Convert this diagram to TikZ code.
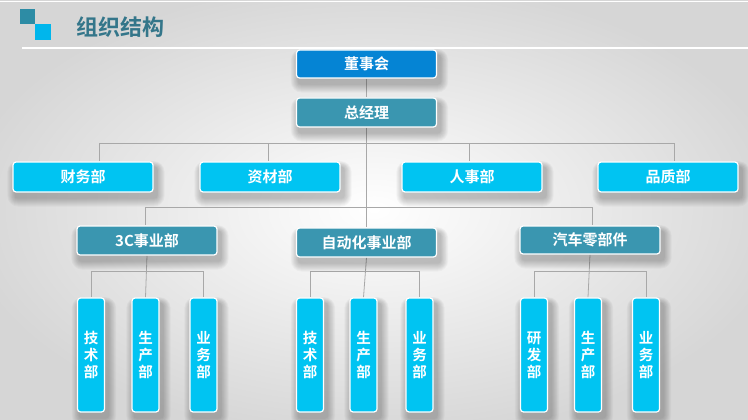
\documentclass[tikz,border=0pt]{standalone}
\usepackage{fontspec}
\newfontfamily\cjk{Noto Sans CJK SC}[BoldFont={Noto Sans CJK SC Bold}]
\usetikzlibrary{calc}
\definecolor{cyanbox}{RGB}{0,196,242}
\definecolor{tealbox}{RGB}{58,150,176}
\definecolor{bluebox}{RGB}{5,132,212}
\definecolor{titlecol}{RGB}{52,118,138}
\definecolor{sqA}{RGB}{45,140,165}
\definecolor{sqB}{RGB}{0,182,236}
\definecolor{conncol}{RGB}{168,168,168}
\definecolor{bgedge}{RGB}{214,214,214}
\pgfdeclarelayer{bg}
\pgfdeclarelayer{lines}
\pgfdeclarelayer{shadow}
\pgfsetlayers{bg,lines,shadow,main}
\tikzset{
  box/.style={draw=white, line width=1.2pt, rounded corners=3pt, text=white,
    font=\cjk\bfseries\fontsize{15pt}{17pt}\selectfont, inner sep=0pt},
  hbox/.style={box, minimum width=140pt, minimum height=29pt},
  vbox/.style={box, fill=cyanbox, minimum width=27pt, minimum height=114pt, align=center,
    font=\cjk\bfseries\fontsize{14.5pt}{17pt}\selectfont},
  conn/.style={draw=conncol, line width=0.8pt},
  shadowpiece/.style={fill=black, opacity=0.028},
}
\begin{document}
\begin{tikzpicture}[x=1pt,y=-1pt]
\useasboundingbox (0,0) rectangle (748,420);
\begin{pgfonlayer}{bg}
  \shade[inner color=white, outer color=bgedge] (-40,-20) rectangle (788,440);
  \draw[white, line width=1.5pt] (22,48) -- (748,48);
  \draw[white, line width=1pt] (0,2) -- (748,2);
  \fill[sqA] (20,9) rectangle (35,24);
  \fill[sqB] (35,24) rectangle (51,40);
\end{pgfonlayer}
\node[anchor=west, text=titlecol, font=\cjk\bfseries\fontsize{22pt}{24pt}\selectfont, inner sep=0pt] (title) at (76,27) {组织结构};

% level 1-2
\node[hbox, fill=bluebox, minimum height=28pt] (board) at (366.5,64) {董事会};
\node[hbox, fill=tealbox] (gm) at (366.5,112.5) {总经理};
% departments
\node[hbox, fill=cyanbox, minimum height=30pt] (fin) at (83,177) {财务部};
\node[hbox, fill=cyanbox, minimum height=30pt] (mat) at (270,177) {资材部};
\node[hbox, fill=cyanbox, minimum height=30pt] (hr)  at (472,177) {人事部};
\node[hbox, fill=cyanbox, minimum height=30pt] (qa)  at (668,177) {品质部};
% business units
\node[hbox, fill=tealbox] (cc)   at (147,240.5) {3C事业部};
\node[hbox, fill=tealbox] (auto) at (366.5,242.5) {自动化事业部};
\node[hbox, fill=tealbox, minimum height=28pt] (car)  at (590,240) {汽车零部件};
% sub departments
\node[vbox] (cc1) at (91,355) {技\\术\\部};
\node[vbox] (cc2) at (145.5,355) {生\\产\\部};
\node[vbox] (cc3) at (203.5,355) {业\\务\\部};
\node[vbox] (au1) at (310,355) {技\\术\\部};
\node[vbox] (au2) at (363.5,355) {生\\产\\部};
\node[vbox] (au3) at (419.5,355) {业\\务\\部};
\node[vbox] (ca1) at (534,355) {研\\发\\部};
\node[vbox] (ca2) at (588,355) {生\\产\\部};
\node[vbox] (ca3) at (646,355) {业\\务\\部};

\begin{pgfonlayer}{shadow}
  \foreach \n in {board,gm,fin,mat,hr,qa,cc,auto,car,cc1,cc2,cc3,au1,au2,au3,ca1,ca2,ca3}{
    \foreach \k in {1,...,9}{
      \fill[shadowpiece, rounded corners=\k pt+2pt]
        ($(\n.north west)+(3-\k*0.9,6-\k*0.7)$) rectangle ($(\n.south east)+(3+\k*0.9,5+\k)$);
    }
  }
\end{pgfonlayer}

\coordinate (busA) at (366.5,143);
\coordinate (busB) at (366.5,207);
\begin{pgfonlayer}{lines}
  \draw[conn] (board.south) -- (gm.north);
  \draw[conn] (gm.south) -- (auto.north);
  \draw[conn] (busA) -| ([xshift=16pt]fin.north);
  \draw[conn] (busA) -| ([xshift=-2pt]mat.north);
  \draw[conn] (busA) -| ([xshift=-3pt]hr.north);
  \draw[conn] (busA) -| ([xshift=6pt]qa.north);
  \draw[conn] (busB) -| ([xshift=-2pt]cc.north);
  \draw[conn] (busB) -| ([xshift=2pt]car.north);
  \draw[conn] (cc.south) -- (cc2.north);
  \draw[conn] (cc2.north |- 0,271) -| (cc1.north);
  \draw[conn] (cc2.north |- 0,271) -| (cc3.north);
  \draw[conn] (auto.south) -- (au2.north);
  \draw[conn] (au2.north |- 0,271) -| (au1.north);
  \draw[conn] (au2.north |- 0,271) -| (au3.north);
  \draw[conn] (car.south) -- (ca2.north);
  \draw[conn] (ca2.north |- 0,271) -| (ca1.north);
  \draw[conn] (ca2.north |- 0,271) -| (ca3.north);
\end{pgfonlayer}
\end{tikzpicture}
\end{document}
